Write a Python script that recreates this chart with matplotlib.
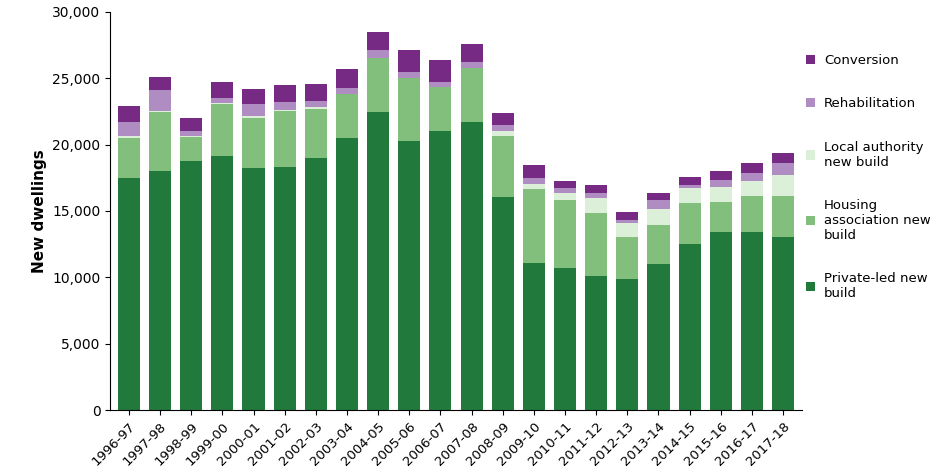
import matplotlib
matplotlib.use("Agg")
import matplotlib.pyplot as plt
import numpy as np
from matplotlib.ticker import FuncFormatter

years = ["1996-97","1997-98","1998-99","1999-00","2000-01","2001-02","2002-03","2003-04",
         "2004-05","2005-06","2006-07","2007-08","2008-09","2009-10","2010-11","2011-12",
         "2012-13","2013-14","2014-15","2015-16","2016-17","2017-18"]
private = [17450,17980,18790,19120,18200,18330,18960,20480,22450,20250,21030,21690,16080,
           11080,10700,10100,9870,11030,12510,13420,13420,13060]
housing_assoc = [3050,4470,1770,3960,3820,4220,3740,3330,4040,4750,3290,4090,4580,
                 5580,5130,4750,3190,2940,3090,2260,2710,3100]
local_auth = [160,100,100,50,100,50,100,30,25,20,20,20,380,
              400,550,1150,1030,1180,1130,1150,1130,1550]
rehab = [1030,1570,380,380,960,610,460,430,635,480,380,410,420,
         450,330,360,230,680,230,510,600,910]
conversion = [1240,980,960,1190,1110,1280,1310,1410,1360,1650,1670,1390,910,
              930,550,600,600,530,600,680,730,730]

series = [("Private-led new\nbuild", private, "#217A3C"),
          ("Housing\nassociation new\nbuild", housing_assoc, "#82BE7C"),
          ("Local authority\nnew build", local_auth, "#DCEFD8"),
          ("Rehabilitation", rehab, "#AF8DC3"),
          ("Conversion", conversion, "#762A83")]

fig = plt.figure(figsize=(9.5, 4.72), dpi=100)
ax = fig.add_axes([0.116, 0.131, 0.728, 0.844])
x = np.arange(len(years))
bottom = np.zeros(len(years))
handles = []
for name, vals, col in series:
    h = ax.bar(x, vals, 0.71, bottom=bottom, color=col, label=name)
    bottom += np.array(vals)
    handles.append(h)

ax.set_xlim(-0.6, len(years) - 0.4)
ax.set_ylim(0, 30000)
ax.set_yticks(range(0, 30001, 5000))
ax.yaxis.set_major_formatter(FuncFormatter(lambda v, p: f"{int(v):,}"))
ax.set_xticks(x)
ax.set_xticklabels(years, rotation=45, ha="right", rotation_mode="anchor", fontsize=9.5)
ax.tick_params(axis="y", labelsize=10)
ax.set_ylabel("New dwellings", fontsize=11, fontweight="bold")
for s in ["top", "right"]:
    ax.spines[s].set_visible(False)

leg = fig.legend(handles[::-1], [s[0] for s in series][::-1], loc="center left",
                 bbox_to_anchor=(0.848, 0.625), frameon=False, fontsize=9.5,
                 labelspacing=2.3, handlelength=0.7, handleheight=0.7, handletextpad=0.7,
                 borderaxespad=0, borderpad=0)
fig.savefig("out.png", dpi=100)
